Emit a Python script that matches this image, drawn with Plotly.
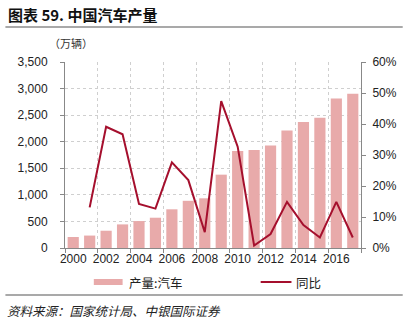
import plotly.graph_objects as go

years = list(range(2000, 2018))
production = [207, 234, 325, 444, 507, 570, 728, 888, 935, 1380, 1827, 1842, 1927, 2212, 2373, 2450, 2812, 2902]
yoy_years = list(range(2001, 2018))
yoy = [0.131, 0.391, 0.367, 0.142, 0.127, 0.276, 0.219, 0.051, 0.474, 0.327, 0.008, 0.045, 0.149, 0.074, 0.034, 0.149, 0.034]

bar_color = "#E8AAAA"
line_color = "#A50F2D"
axis_color = "#888888"
grid_color = "#CFCFCF"
cjk = "Noto Sans CJK SC"
latin = "Liberation Sans, Arial, sans-serif"

fig = go.Figure()
fig.add_trace(go.Bar(x=years, y=production, name="产量:汽车", marker_color=bar_color,
                     marker_line_width=0, width=0.68, showlegend=False))
fig.add_trace(go.Scatter(x=yoy_years, y=yoy, name="同比", yaxis="y2", mode="lines",
                         line=dict(color=line_color, width=2), showlegend=False))

W, H = 409, 330
L, R, T, B = 65, 46, 62, 82
pw, ph = W - L - R, H - T - B

def px(x):
    return (x - L) / pw

def py(y):
    return (H - B - y) / ph

fig.update_layout(
    width=W, height=H,
    margin=dict(l=L, r=R, t=T, b=B),
    paper_bgcolor="white", plot_bgcolor="white",
    font=dict(family=latin, size=12, color="#222222"),
    bargap=0.3,
    xaxis=dict(
        range=[1999.5, 2017.5], tickmode="array", tickvals=list(range(2000, 2017, 2)),
        ticks="", showgrid=False, zeroline=False,
        showline=True, linecolor=axis_color, linewidth=1,
        tickfont=dict(size=12, color="#222222"),
        minor=dict(tick0=1999.5, dtick=2, ticks="outside", ticklen=4, tickcolor=axis_color,
                   showgrid=True, gridcolor=grid_color, griddash="dot", gridwidth=1),
    ),
    yaxis=dict(
        range=[0, 3500], dtick=500, tickformat=",", ticks="outside", ticklen=4,
        tickcolor=axis_color, showline=True, linecolor=axis_color, linewidth=1,
        showgrid=True, gridcolor=grid_color, griddash="dot", zeroline=False,
        ticklabelstandoff=10,
        tickfont=dict(size=12, color="#222222"),
    ),
    yaxis2=dict(
        range=[0, 0.6], dtick=0.1, tickformat=".0%", overlaying="y", side="right",
        ticks="outside", ticklen=4, tickcolor=axis_color, showline=True,
        linecolor=axis_color, linewidth=1, showgrid=False, zeroline=False,
        ticklabelstandoff=4,
        tickfont=dict(size=12, color="#222222"),
    ),
)

shapes = [
    dict(type="line", xref="paper", yref="paper", x0=px(5), x1=px(405), y0=py(27), y1=py(27),
         line=dict(color="#555555", width=1.2)),
    dict(type="line", xref="paper", yref="paper", x0=px(5), x1=px(405), y0=py(295), y1=py(295),
         line=dict(color="#555555", width=1.2)),
    dict(type="rect", xref="paper", yref="paper", x0=px(94), x1=px(123), y0=py(285), y1=py(279),
         fillcolor=bar_color, line=dict(width=0)),
    dict(type="line", xref="paper", yref="paper", x0=px(262), x1=px(293), y0=py(282), y1=py(282),
         line=dict(color=line_color, width=2)),
]
fig.update_layout(shapes=shapes)

annotations = [
    dict(text="<b>图表 59. 中国汽车产量</b>", xref="paper", yref="paper", x=px(6), y=py(14),
         xanchor="left", yanchor="middle", showarrow=False,
         font=dict(family=cjk, size=15, color="#111111")),
    dict(text="（万辆）", xref="paper", yref="paper", x=px(47), y=py(43),
         xanchor="left", yanchor="middle", showarrow=False,
         font=dict(family=cjk, size=11, color="#333333")),
    dict(text="产量:汽车", xref="paper", yref="paper", x=px(127), y=py(282),
         xanchor="left", yanchor="middle", showarrow=False,
         font=dict(family=cjk, size=12.5, color="#222222")),
    dict(text="同比", xref="paper", yref="paper", x=px(296), y=py(282),
         xanchor="left", yanchor="middle", showarrow=False,
         font=dict(family=cjk, size=12.5, color="#222222")),
    dict(text="<i>资料来源：国家统计局、中银国际证券</i>", xref="paper", yref="paper", x=px(5), y=py(310),
         xanchor="left", yanchor="middle", showarrow=False,
         font=dict(family=cjk, size=12.5, color="#222222")),
]
fig.update_layout(annotations=annotations)

fig.write_html("out.html")
